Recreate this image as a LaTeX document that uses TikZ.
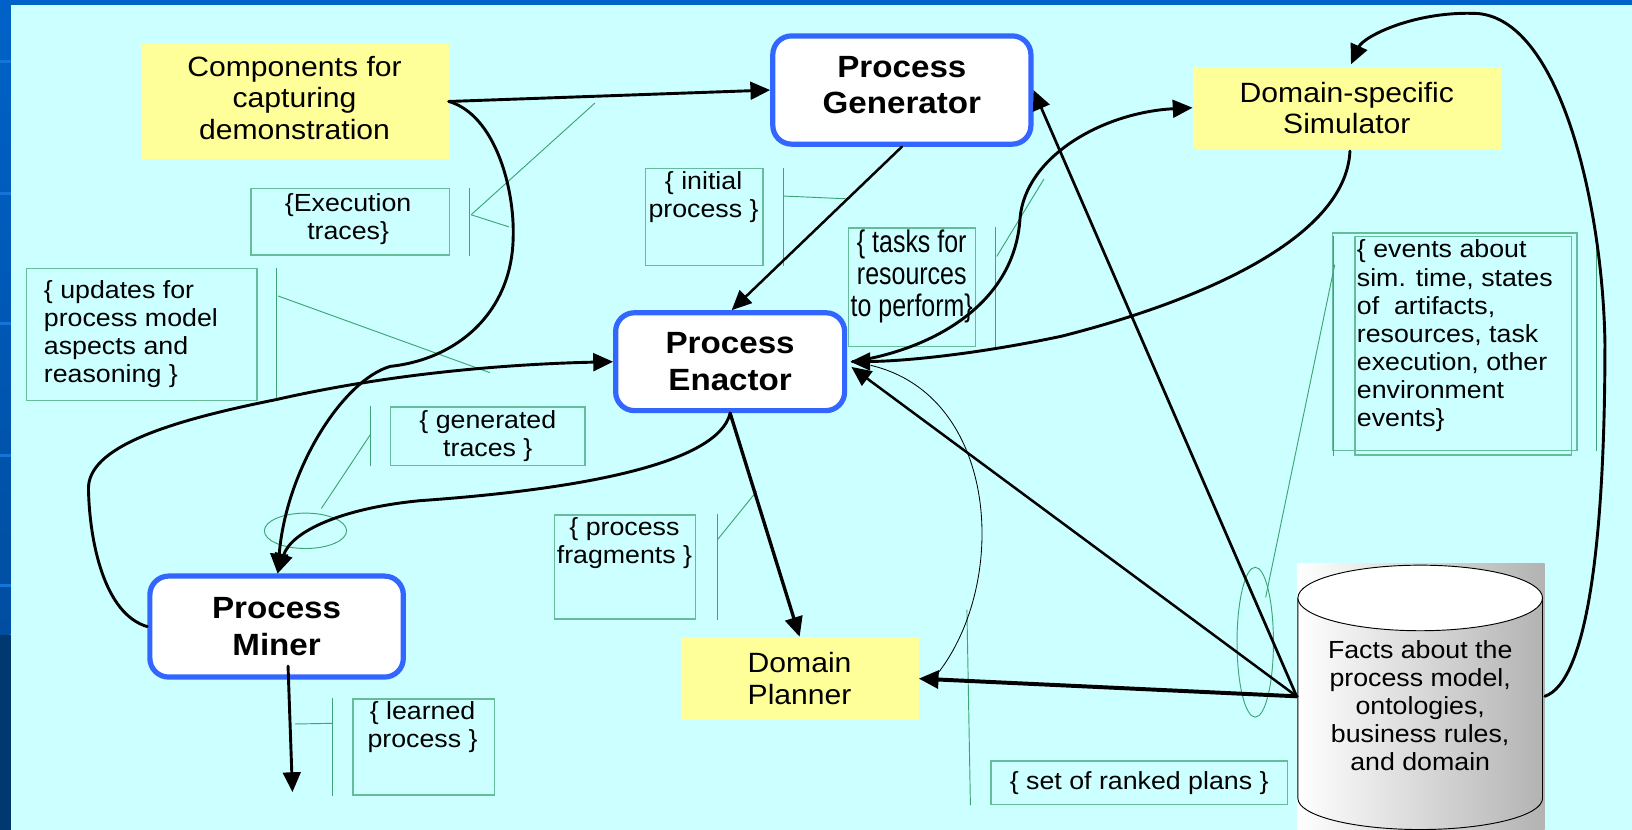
\documentclass[tikz,border=0pt]{standalone}
\usepackage{fontspec}
\usepackage{graphicx}
\setmainfont{Liberation Sans}[FakeStretch=1.08]
\usetikzlibrary{arrows.meta,calc}

\definecolor{slidebg}{RGB}{204,255,255}
\definecolor{stripblue}{RGB}{0,98,200}
\definecolor{stripmid}{RGB}{0,78,160}
\definecolor{stripdark}{RGB}{0,56,112}
\definecolor{stripline}{RGB}{20,116,216}
\definecolor{padyellow}{RGB}{255,255,153}
\definecolor{unitblue}{RGB}{51,102,255}
\definecolor{notegreen}{RGB}{102,187,153}
\definecolor{leadgreen}{RGB}{60,165,115}

\tikzset{
  yellowbox/.style={fill=padyellow, inner sep=0pt, align=center,
    font=\fontsize{26.8}{30}\selectfont},
  unitbox/.style={draw=unitblue, line width=5pt, fill=white, rounded corners=18pt,
    inner sep=0pt, align=center, font=\fontsize{29.5}{35}\selectfont\bfseries},
  unittext/.style={inner sep=0pt, align=center, font=\fontsize{29.5}{35}\selectfont\bfseries},
  yellowtext/.style={inner sep=0pt, align=center, font=\fontsize{26.8}{30}\selectfont},
  notebox/.style={draw=notegreen, line width=1.3pt, inner sep=0pt},
  notetext/.style={inner sep=0pt, align=center, font=\fontsize{23.8}{27}\selectfont},
  leader/.style={draw=leadgreen, line width=0.9pt},
  flow/.style={draw=black, line width=2.8pt, line cap=round,
    -{Triangle[length=19pt,width=17pt]}},
}

\begin{document}
\begin{tikzpicture}[x=1pt,y=-1pt]
\useasboundingbox (0,0) rectangle (1568,797);

% slide background and frame
\fill[slidebg] (0,0) rectangle (1568,797);
\fill[stripblue] (0,0) rectangle (1568,5);
\shade[top color=stripblue, bottom color=stripmid] (0,0) rectangle (10.3,610);
\fill[stripdark] (0,610) rectangle (10.3,797);
\foreach \yy in {58,184,309,436,561} {
  \fill[stripline] (0,\yy) rectangle (10.3,\yy+3);
}

% main components
\node[yellowbox, minimum width=296pt, minimum height=111pt] (comp) at (283,97.5) {};
\node[yellowtext] (comptext) at (283,94) {Components for\\capturing\\demonstration};
\node[unitbox, minimum width=248pt, minimum height=104pt] (gen) at (866.5,86.5) {};
\node[unittext] (gentext) at (866.5,82) {Process\\Generator};
\node[yellowbox, minimum width=296pt, minimum height=79pt] (sim) at (1294,103.5) {Domain-specific\\Simulator};
\node[unitbox, minimum width=220pt, minimum height=94pt] (enact) at (701.5,347.5) {Process\\Enactor};
\node[unitbox, minimum width=243.5pt, minimum height=97pt] (miner) at (265.75,602) {Process\\Miner};
\node[yellowbox, minimum width=228.5pt, minimum height=80pt] (plan) at (768.25,652) {Domain\\Planner};

% knowledge base cylinder
\node[inner sep=0pt, minimum width=238pt, minimum height=256pt,
      left color=white, right color=black!30] (db) at (1365,669) {};
\draw[line width=0.9pt] (1247,574.5) -- (1247,767)
  arc[start angle=180, end angle=0, x radius=117.5, y radius=30] -- (1482,574.5);
\draw[line width=0.9pt, fill=white] (1364.5,574.5) ellipse[x radius=117.5, y radius=31.5];
\node[notetext] (dbtext) at (1364.5,678) {Facts about the\\process model,\\ontologies,\\business rules,\\and domain};

% callout: execution traces
\node[notebox, minimum width=191pt, minimum height=64pt] (exbox) at (336.5,213) {};
\node[notetext] (extext) at (334.5,210.5) {\{Execution\\traces\}};
\draw[leader] ($(exbox.north east)+(18,0)$) -- ($(exbox.south east)+(18,0)$);
\coordinate (exfoot) at ($(exbox.north east)+(20,26)$);
\coordinate (exaimA) at (571.6,99);
\coordinate (exaimB) at (489,218);
\draw[leader] (exfoot) -- (exaimA);
\draw[leader] (exfoot) -- (exaimB);

% callout: initial process
\node[notebox, minimum width=113pt, minimum height=93pt] (initbox) at (676.5,208.5) {};
\node[notetext] (inittext) at (676,189.5) {\{ initial\\process \}};
\draw[leader] ($(initbox.north east)+(19,0)$) -- ($(initbox.south east)+(19,0)$);
\coordinate (initfoot) at ($(initbox.north east)+(19,27)$);
\coordinate (initaim) at (813.5,191);
\draw[leader] (initfoot) -- (initaim);

% callout: tasks for resources
\node[notebox, minimum width=122pt, minimum height=114pt] (taskbox) at (876,276) {};
\node[inner sep=0pt, font=\fontsize{30}{30}\selectfont] (tasktext) at (876,267)
  {\scalebox{0.74}[1]{\begin{tabular}{@{}c@{}}\{ tasks for\\resources\\to perform\}\end{tabular}}};
\draw[leader] ($(taskbox.north east)+(19,0)$) -- ($(taskbox.south east)+(19,0)$);
\coordinate (taskfoot) at ($(taskbox.north east)+(20,28)$);
\coordinate (taskaim) at (1003,172);
\draw[leader] (taskfoot) -- (taskaim);

% callout: updates for process model
\node[notebox, minimum width=221.3pt, minimum height=127pt] (updbox) at (136.35,321.5) {};
\node[notetext, align=left, anchor=west] (updtext) at (42,321)
  {\{ updates for\\process model\\aspects and\\reasoning \}};
\draw[leader] ($(updbox.north east)+(18,0)$) -- ($(updbox.south east)+(18,0)$);
\coordinate (updfoot) at ($(updbox.north east)+(19.5,27)$);
\coordinate (updaim) at (470.5,358);
\draw[leader] (updfoot) -- (updaim);

% callout: generated traces
\node[notebox, minimum width=187pt, minimum height=56pt] (genbox) at (468.5,419) {};
\node[notetext] (gentraces) at (468.7,419) {\{ generated\\traces \}};
\draw[leader] ($(genbox.north west)+(-18.4,0)$) -- ($(genbox.south west)+(-18.4,0)$);
\coordinate (genfoot) at ($(genbox.north west)+(-18.4,27)$);
\coordinate (genaim) at (308.8,488.5);
\draw[leader] (genfoot) -- (genaim);
\draw[leader] (293.5,510) ellipse[x radius=39.5, y radius=17];

% callout: process fragments
\node[notebox, minimum width=135pt, minimum height=100pt] (fragbox) at (600.5,544.8) {};
\node[notetext] (fragtext) at (600,522) {\{ process\\fragments \}};
\draw[leader] ($(fragbox.north east)+(21,0)$) -- ($(fragbox.south east)+(21,0)$);
\coordinate (fragfoot) at ($(fragbox.north east)+(21,24)$);
\coordinate (fragaim) at (727,472);
\draw[leader] (fragfoot) -- (fragaim);

% callout: learned process
\node[notebox, minimum width=136pt, minimum height=92.2pt] (learnbox) at (407,717.7) {};
\node[notetext] (learntext) at (406,699) {\{ learned\\process \}};
\draw[leader] ($(learnbox.north west)+(-19,0)$) -- ($(learnbox.south west)+(-19,0)$);
\coordinate (learnfoot) at ($(learnbox.north west)+(-19,24)$);
\coordinate (learnaim) at (283,695.6);
\draw[leader] (learnfoot) -- (learnaim);

% callout: set of ranked plans
\node[notebox, minimum width=285pt, minimum height=42pt] (rankbox) at (1094.5,752) {};
\node[notetext] (ranktext) at (1094.5,752) {\{ set of ranked plans \}};
\coordinate (rankaim) at (929,586);
\draw[leader] ($(rankbox.south west)+(-19,0)$) -- (rankaim);

% callout: simulation events
\node[notebox, minimum width=235pt, minimum height=209pt] (evbox) at (1397.5,328.5) {};
\node[notebox, minimum width=208pt, minimum height=210pt] (evinner) at (1406,332) {};
\node[notetext, align=left, anchor=west] (evtext) at (1303.5,322.7)
  {\{ events about\\sim. time, states\\of~ artifacts,\\resources, task\\execution, other\\environment\\events\}};
\draw[leader] ($(evinner.north west)+(-20,0)$) -- ($(evinner.south west)+(-20,0)$);
\draw[leader] ($(evbox.north east)+(18.5,0)$) -- ($(evbox.south east)+(18.5,0)$);
\coordinate (evfoot) at ($(evbox.north west)+(3,31)$);
\coordinate (evaim) at (1216,574);
\draw[leader] (evfoot) -- (evaim);
\draw[leader] (1206,617) ellipse[x radius=17.5, y radius=72];

% information flows
\draw[flow] (comp.east) -- (gen.west);
\draw[flow, line width=2.4pt] (gen.south) -- ($(enact.north)+(1.5,0)$);
\draw[flow] (comp.east) .. controls (475,110) and (495,180) .. (493,230)
  .. controls (491,300) and (440,345) .. (375,352)
  .. controls (330,365) and (275,450) .. ($(miner.north)+(1,0)$);
\draw[flow] (miner.west) .. controls (100,590) and (86,520) .. (85,470)
  .. controls (84,430) and (160,405) .. (265,384)
  .. controls (370,360) and (480,350) .. (enact.west);
\draw[flow] (enact.south) .. controls (690,445) and (560,470) .. (404,481)
  .. controls (330,488) and (280,510) .. ($(miner.north)+(1,0)$);
\draw[flow, line width=3.2pt] (enact.south) -- (plan.north);
\draw[flow] ($(enact.east)+(5,0)$) .. controls (900,335) and (975,290) .. (980,210)
  .. controls (985,150) and (1060,108) .. (sim.west);
\draw[flow] ($(sim.south)+(3,2)$) .. controls (1293,230) and (1150,290) .. (1020,323)
  .. controls (940,340) and (870,347) .. ($(enact.east)+(3,0)$);
\draw[flow] (db.east) .. controls (1525,655) and (1542,520) .. (1542,330)
  .. controls (1540,200) and (1500,20) .. (1420,13)
  .. controls (1360,10) and (1310,35) .. ($(sim.north)+(4,-2)$);
\draw[flow, line width=2.6pt] (db.west) -- (gen.east);
\draw[flow, line width=2.4pt] (db.west) -- ($(enact.east)+(4,5)$);
\draw[flow, line width=3.8pt] (db.west) -- (plan.east);
\coordinate (learnedout) at (281,761);
\draw[flow] ($(miner.south)+(11,-13)$) -- (learnedout);
\draw[line width=0.8pt] ($(enact.east)+(22.5,3.5)$) .. controls (960,380) and (970,560)
  .. ($(plan.east)+(17.5,-4)$);
\end{tikzpicture}
\end{document}
